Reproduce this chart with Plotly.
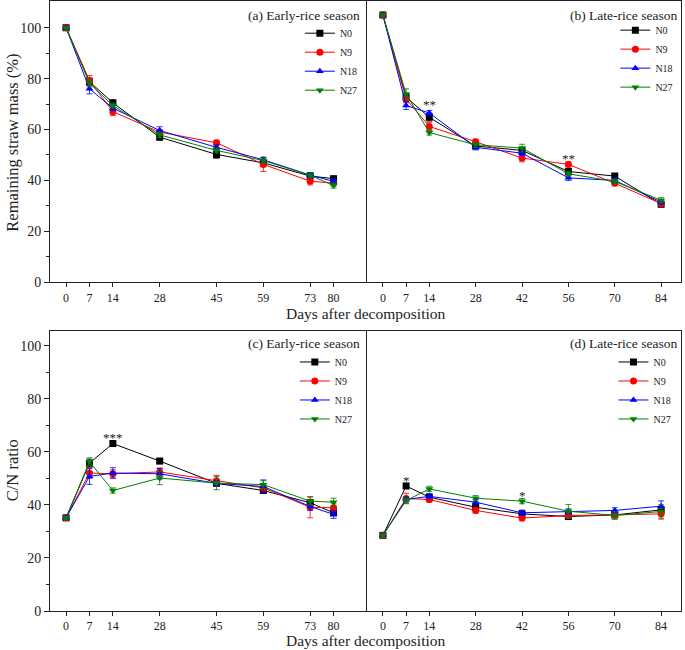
import plotly.graph_objects as go

FONT = "Liberation Serif"

series_names = ["N0", "N9", "N18", "N27"]
colors = ["#000000", "#FF0000", "#0000FF", "#008000"]
symbols = ["square", "circle", "triangle-up", "triangle-down"]

days_early = [0, 7, 14, 28, 45, 59, 73, 80]
days_late = [0, 7, 14, 28, 42, 56, 70, 84]

# (a) Remaining straw mass, early-rice season
mass_early = {
    "N0": [100, 78.8, 70.5, 57.0, 50.2, 46.9, 41.7, 40.7],
    "N9": [100, 79.2, 67.0, 59.0, 54.8, 46.3, 39.7, 38.9],
    "N18": [100, 76.0, 68.4, 59.6, 53.0, 48.1, 42.1, 39.6],
    "N27": [100, 78.2, 69.4, 57.9, 51.8, 47.8, 42.0, 38.0],
}
mass_early_err = {
    "N0": [0.5, 1.5, 1.0, 1.0, 1.5, 1.0, 1.0, 1.0],
    "N9": [0.5, 2.0, 1.5, 1.0, 1.0, 2.8, 1.5, 1.0],
    "N18": [0.5, 2.0, 1.0, 1.5, 1.0, 1.0, 1.0, 1.0],
    "N27": [0.5, 1.5, 1.0, 1.0, 1.0, 1.0, 1.0, 1.0],
}
# (b) Remaining straw mass, late-rice season
mass_late = {
    "N0": [105, 72.7, 64.8, 53.5, 51.8, 43.5, 41.7, 30.6],
    "N9": [105, 72.0, 61.2, 55.2, 48.8, 46.3, 38.9, 30.9],
    "N18": [105, 69.4, 66.5, 53.0, 50.7, 41.0, 40.0, 31.5],
    "N27": [105, 74.0, 58.8, 54.0, 52.7, 42.6, 39.6, 32.2],
}
mass_late_err = {
    "N0": [0.5, 1.5, 1.5, 1.0, 1.0, 1.0, 1.0, 1.0],
    "N9": [0.5, 1.5, 1.5, 1.0, 1.5, 1.0, 1.0, 1.0],
    "N18": [0.5, 1.5, 1.0, 1.0, 1.0, 1.0, 1.0, 1.0],
    "N27": [0.5, 2.0, 1.0, 1.0, 1.5, 1.0, 1.0, 1.0],
}
# (c) C/N ratio, early-rice season
cn_early = {
    "N0": [35.1, 55.7, 63.1, 56.5, 48.1, 45.4, 40.8, 37.0],
    "N9": [35.1, 52.0, 51.7, 52.4, 49.1, 46.4, 39.1, 38.9],
    "N18": [35.1, 50.7, 52.0, 51.7, 48.1, 46.9, 39.4, 36.4],
    "N27": [35.1, 56.2, 45.4, 50.1, 48.2, 47.6, 41.4, 41.0],
}
cn_early_err = {
    "N0": [0.5, 1.5, 1.0, 1.0, 1.0, 1.0, 1.0, 1.0],
    "N9": [0.5, 2.0, 1.5, 1.5, 2.0, 1.5, 4.0, 1.5],
    "N18": [0.5, 3.0, 2.0, 2.0, 1.0, 2.5, 1.5, 1.5],
    "N27": [0.5, 1.5, 1.0, 2.5, 2.5, 1.5, 1.5, 1.5],
}
# (d) C/N ratio, late-rice season
cn_late = {
    "N0": [28.5, 47.1, 42.9, 39.1, 36.6, 35.6, 36.2, 38.1],
    "N9": [28.5, 42.4, 42.0, 37.9, 35.0, 36.0, 36.2, 36.6],
    "N18": [28.5, 42.0, 43.2, 41.0, 37.0, 37.5, 37.9, 39.5],
    "N27": [28.5, 41.6, 46.0, 42.5, 41.4, 37.6, 36.0, 37.5],
}
cn_late_err = {
    "N0": [0.5, 1.0, 1.0, 1.0, 1.0, 1.0, 1.0, 1.0],
    "N9": [0.5, 2.0, 1.0, 1.0, 1.0, 1.0, 1.0, 2.0],
    "N18": [0.5, 1.0, 1.0, 1.0, 1.0, 1.0, 1.0, 2.0],
    "N27": [0.5, 1.0, 1.0, 1.0, 1.0, 2.5, 1.5, 2.5],
}

panel_labels = ["(a) Early-rice season", "(b) Late-rice season",
                "(c) Early-rice season", "(d) Late-rice season"]
x_title = "Days after decomposition"
y_titles = ["Remaining straw mass (%)", "C/N ratio"]

# significance marks: (panel index, day, y, text)
sig_marks = [
    (1, 14, 69.8, "**"),
    (1, 56, 48.6, "**"),
    (2, 14, 65.2, "***"),
    (3, 7, 49.1, "*"),
    (3, 42, 43.5, "*"),
]

panels = [
    (days_early, mass_early, mass_early_err),
    (days_late, mass_late, mass_late_err),
    (days_early, cn_early, cn_early_err),
    (days_late, cn_late, cn_late_err),
]

fig = go.Figure()
axis_ids = ["", "2", "3", "4"]
legend_ids = ["legend", "legend2", "legend3", "legend4"]

for p, (days, vals, errs) in enumerate(panels):
    for i, name in enumerate(series_names):
        fig.add_trace(go.Scatter(
            x=days, y=vals[name], name=name, mode="lines+markers",
            line=dict(color=colors[i], width=1),
            marker=dict(symbol=symbols[i], color=colors[i], size=7),
            error_y=dict(type="data", array=errs[name], color=colors[i],
                         thickness=0.8, width=3),
            xaxis="x" + axis_ids[p], yaxis="y" + axis_ids[p],
            legend=legend_ids[p], showlegend=True,
        ))

x_domains = [[0, 0.5024], [0.5024, 1.0], [0, 0.5024], [0.5024, 1.0]]
y_domains = [[0.539, 1.0], [0.539, 1.0], [0.0, 0.459], [0.0, 0.459]]
y_ranges = [[0, 110.5], [0, 110.5], [0, 105.5], [0, 105.5]]

layout = dict(
    width=685, height=650,
    margin=dict(l=50, r=4, t=1, b=39),
    paper_bgcolor="white", plot_bgcolor="white",
    font=dict(family=FONT, color="#222"),
    showlegend=True,
)

for p in range(4):
    days = panels[p][0]
    xa = dict(
        domain=x_domains[p], range=[-4.8, 90], tickvals=days,
        ticktext=[str(d) for d in days],
        ticks="outside", ticklen=4, tickcolor="#222", tickwidth=1,
        showline=True, linecolor="#222", linewidth=1, mirror=True,
        showgrid=False, zeroline=False,
        tickfont=dict(family=FONT, size=12, color="#222"),
        anchor="y" + axis_ids[p],
    )
    left = p in (0, 2)
    ya = dict(
        domain=y_domains[p], range=y_ranges[p],
        showline=True, linecolor="#222", linewidth=1,
        showgrid=False, zeroline=False,
        anchor="x" + axis_ids[p],
    )
    if left:
        ya.update(
            mirror=False,
            tickvals=[0, 20, 40, 60, 80, 100],
            ticks="outside", ticklen=5, tickcolor="#222", tickwidth=1,
            tickfont=dict(family=FONT, size=14, color="#222"),
            minor=dict(tickvals=[10, 30, 50, 70, 90], ticks="outside",
                       ticklen=3, tickcolor="#222"),
        )
    else:
        ya.update(mirror=True, showticklabels=False, ticks="")
    layout["xaxis" + axis_ids[p]] = xa
    layout["yaxis" + axis_ids[p]] = ya

legend_pos = [(0.396, 0.971), (0.896, 0.976), (0.388, 0.432), (0.893, 0.432)]
for p in range(4):
    layout[legend_ids[p]] = dict(
        x=legend_pos[p][0], y=legend_pos[p][1], xanchor="left", yanchor="top",
        bgcolor="rgba(0,0,0,0)", borderwidth=0,
        font=dict(family=FONT, size=10, color="#222"),
        itemwidth=30, tracegroupgap=0,
    )

fig.update_layout(**layout)

annotations = []
label_pos = [(0.984, 0.95), (0.994, 0.95), (0.984, 0.954), (0.994, 0.954)]
for p in range(4):
    annotations.append(dict(
        text=panel_labels[p], xref="x" + axis_ids[p] + " domain",
        yref="y" + axis_ids[p] + " domain", x=label_pos[p][0], y=label_pos[p][1],
        xanchor="right", yanchor="middle", showarrow=False,
        font=dict(family=FONT, size=13.5, color="#222"),
    ))
for ty in (0.488, -0.049):
    annotations.append(dict(
        text=x_title, xref="paper", yref="paper", x=0.5, y=ty,
        xanchor="center", yanchor="middle", showarrow=False,
        font=dict(family=FONT, size=15.5, color="#222"),
    ))
for txt, ty in zip(y_titles, (0.768, 0.231)):
    annotations.append(dict(
        text=txt, xref="paper", yref="paper", x=-0.060, y=ty,
        xanchor="center", yanchor="middle", textangle=-90, showarrow=False,
        font=dict(family=FONT, size=16.5, color="#222"),
    ))
for p, d, yv, txt in sig_marks:
    annotations.append(dict(
        text=txt, x=d, y=yv, xref="x" + axis_ids[p], yref="y" + axis_ids[p],
        xanchor="center", yanchor="middle", showarrow=False,
        font=dict(family=FONT, size=13, color="#222"),
    ))
fig.update_layout(annotations=annotations)

fig.write_html(
    "out.html",
    config={"displayModeBar": False},
    post_script="document.body.style.margin='0';document.body.style.padding='0';",
)
